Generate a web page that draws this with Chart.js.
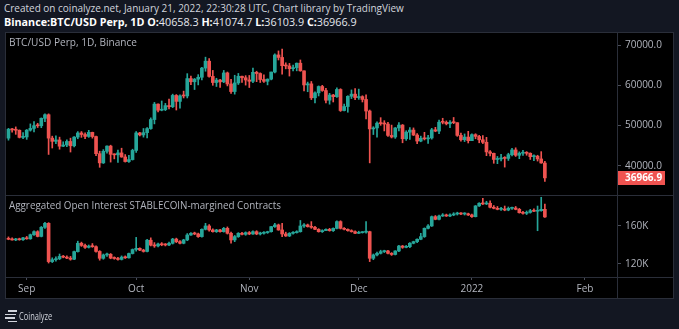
<!DOCTYPE html>
<html>
<head>
<meta charset="utf-8">
<script src="https://cdn.jsdelivr.net/npm/chart.js@4.4.1/dist/chart.umd.min.js"></script>
<style>
  html, body { margin: 0; padding: 0; }
  body { width: 679px; height: 329px; background: #131722; position: relative; overflow: hidden; font-family: 'Open Sans', sans-serif; }
  .txt { position: absolute; white-space: nowrap; transform-origin: 0 50%; line-height: 1; }
  #hdr1 { left: 4px; top: 2px; font-size: 11px; color: #d1d4dc; }
  #hdr2 { left: 4px; top: 16px; font-size: 11px; color: #e6e8ee; }
  #hdr2 b { color: #fff; }
  .pane { position: absolute; left: 5px; width: 669px; background: #000; }
  #pricePane { top: 32px; height: 163px; }
  #oiPane { top: 195px; height: 104px; }
  .paneTitle { left: 4px; top: 5px; font-size: 10px; color: #b2b5be; }
  .line { position: absolute; background: #2a2e39; }
  #frame { position: absolute; left: 5px; top: 32px; width: 669px; height: 267px; border: 1px solid #2a2e39; box-sizing: border-box; }
  .bar { position: absolute; height: 1.5px; background: #d1d4dc; }
  #logoText { left: 19px; top: 311px; font-size: 10px; color: #d1d4dc; }
</style>
</head>
<body>
<div id="hdr1" class="txt">Created on coinalyze.net, January 21, 2022, 22:30:28 UTC, Chart library by TradingView</div>
<div id="hdr2" class="txt"><b>Binance:BTC/USD Perp, 1D O:</b>40658.3 <b>H:</b>41074.7 <b>L:</b>36103.9 <b>C:</b>36966.9</div>

<div id="pricePane" class="pane">
  <canvas id="priceChart" width="669" height="163"></canvas>
  <div id="priceTitle" class="txt paneTitle">BTC/USD Perp, 1D, Binance</div>
</div>
<div id="oiPane" class="pane">
  <canvas id="oiChart" width="669" height="104"></canvas>
  <div id="oiTitle" class="txt paneTitle">Aggregated Open Interest STABLECOIN-margined Contracts</div>
</div>
<div id="frame"></div>
<div class="line" style="left:5px;top:195px;width:669px;height:1px"></div>
<div class="line" style="left:5px;top:277px;width:669px;height:1px"></div>
<div class="line" style="left:617px;top:32px;width:1px;height:267px"></div>

<div class="bar" style="left:8px;top:310px;width:9px"></div>
<div class="bar" style="left:5px;top:313.5px;width:11px"></div>
<div class="bar" style="left:5px;top:317px;width:10px"></div>
<div class="bar" style="left:8px;top:320.5px;width:9px"></div>
<div id="logoText" class="txt">Coinalyze</div>

<script>
// days counted from 1 Sep 2021; first candle is 27 Aug 2021
const firstDay = -5;
const monthTicks = [0, 30, 61, 91, 122, 153];
const monthLabels = ['Sep', 'Oct', 'Nov', 'Dec', '2022', 'Feb'];
const priceTicks = [40000, 50000, 60000, 70000];
const oiTicks = [120, 160];

// BTC/USD Perp daily candles, 27 Aug 2021 .. 21 Jan 2022
const btcOpen = [
  46850, 49070, 48900, 48820, 47050,
  47150, 48840, 49280, 49960, 49930, 51780, 52680, 46860, 46060, 46400,
  44850, 45150, 46030, 44950, 47120, 48140, 47760, 47280, 48290, 47250,
  42990, 40700, 43570, 44880, 42830, 42700, 43180, 42170, 41030, 41520,
  43800, 48150, 47650, 48220, 49230, 51480, 55320, 53800, 53950, 54950,
  54670, 57480, 56000, 57370, 57350, 61670, 60880, 61530, 62000, 64280,
  66000, 62210, 60690, 61300, 60860, 63080, 60330, 58450, 60590, 62250, 61880,
  61320, 61000, 63230, 62930, 61440, 61000, 61530, 63300, 67550, 66930,
  64880, 64810, 64140, 64400, 65500, 63600, 60090, 60360, 56890, 58120,
  59700, 58700, 56290, 57570, 57170, 58960, 53730, 54720, 57270, 57800,
  56950, 57180, 56480, 53600, 49150, 49400, 50580, 50470, 50360, 47540,
  47140, 49390, 50100, 46700, 48340, 48860, 47630, 46130, 46830, 46680,
  46900, 48930, 48610, 50820, 50800, 50430, 50800, 50700, 47540, 46460, 47120,
  46220, 47720, 47290, 46440, 45830, 43430, 43080, 41550, 41680, 41860,
  41820, 42740, 43920, 42590, 43100, 43180, 43090, 42250, 42370, 41680, 40658.3
];
const btcHigh = [
  49300, 49300, 49650, 48900, 48250,
  49000, 50400, 51000, 50550, 51900, 52900, 52900, 47350, 47400, 47100,
  45950, 46450, 46850, 47250, 48480, 48500, 48150, 48800, 48350, 47350,
  43600, 44000, 44950, 45100, 42950, 43900, 44350, 42770, 42600, 44100,
  48500, 48300, 49250, 49500, 51900, 55750, 55400, 56100, 55500, 56550,
  57800, 57700, 57600, 58550, 62900, 62300, 61700, 62650, 64450, 67000,
  66650, 63700, 61750, 61500, 63700, 63300, 61500, 62500, 62950, 62300, 62400,
  62450, 64300, 63500, 63100, 62600, 61600, 63300, 67800, 68550, 69000,
  65600, 65450, 65000, 65550, 66300, 63600, 60800, 60950, 58350, 59850,
  60000, 59250, 58000, 57750, 59400, 59150, 55300, 57400, 58850, 59200,
  59050, 57400, 57600, 53850, 49700, 50900, 51950, 51200, 50800, 50100,
  49500, 50700, 50250, 48700, 49500, 49400, 48000, 47350, 48300, 47550,
  49300, 49550, 51350, 51800, 51150, 51250, 52000, 50700, 48100, 47900, 48550,
  47900, 47950, 47550, 47500, 47050, 43750, 43150, 42300, 42800, 42250,
  43100, 44350, 44450, 43450, 43800, 43500, 43200, 42700, 42600, 43500, 41074.7
];
const btcLow = [
  46350, 48350, 47800, 46900, 46700,
  46550, 48600, 48400, 49500, 49450, 50950, 42800, 44400, 45500, 44100,
  44750, 44750, 43400, 44700, 46700, 47050, 46750, 47050, 46850, 42500,
  39600, 40550, 43100, 40900, 41700, 40800, 42100, 40900, 40800, 41400,
  43300, 47400, 47100, 46900, 49050, 50400, 53350, 53650, 53700, 54100,
  54450, 53850, 54300, 56850, 56850, 60150, 58950, 60100, 61350, 63500,
  62000, 60000, 59700, 59500, 60650, 59850, 58000, 57800, 60200, 60700, 60050,
  59450, 60650, 60900, 60700, 60700, 60100, 61350, 63100, 66300, 62800,
  64100, 62300, 63600, 63600, 63500, 58600, 58400, 56450, 55600, 57350,
  58500, 55600, 55300, 55850, 57000, 53500, 53650, 53300, 56700, 56450,
  56500, 55850, 51650, 40700, 47750, 47100, 50050, 48650, 47300, 46900,
  46800, 48650, 45700, 46300, 46550, 47500, 45450, 45950, 46400, 45550,
  46600, 48450, 47950, 50400, 50150, 49450, 50450, 47300, 46100, 46000, 45650,
  46200, 46700, 45700, 45500, 42500, 42450, 40600, 40500, 41200, 39650,
  41300, 42450, 42300, 41750, 42550, 42600, 41550, 41250, 41150, 40600, 36103.9
];
const btcClose = [
  49070, 48900, 48820, 47050, 47150,
  48840, 49280, 49960, 49930, 51780, 52680, 46860, 46060, 46400, 44850,
  45150, 46030, 44950, 47120, 48140, 47760, 47280, 48290, 47250, 42990,
  40700, 43570, 44880, 42830, 42700, 43180, 42170, 41030, 41520, 43800,
  48150, 47650, 48220, 49230, 51480, 55320, 53800, 53950, 54950, 54670,
  57480, 56000, 57370, 57350, 61670, 60880, 61530, 62000, 64280, 66000,
  62210, 60690, 61300, 60860, 63080, 60330, 58450, 60590, 62250, 61880, 61320,
  61000, 63230, 62930, 61440, 61000, 61530, 63300, 67550, 66930, 64880,
  64810, 64140, 64400, 65500, 63600, 60090, 60360, 56890, 58120, 59700,
  58700, 56290, 57570, 57170, 58960, 53730, 54720, 57270, 57800, 56950,
  57180, 56480, 53600, 49150, 49400, 50580, 50470, 50360, 47540, 47140,
  49390, 50100, 46700, 48340, 48860, 47630, 46130, 46830, 46680, 46900,
  48930, 48610, 50820, 50800, 50430, 50800, 50700, 47540, 46460, 47120, 46220,
  47720, 47290, 46440, 45830, 43430, 43080, 41550, 41680, 41860, 41820,
  42740, 43920, 42590, 43100, 43180, 43090, 42250, 42370, 41680, 40680, 36966.9
];

// aggregated open interest (thousands), same days
const oiOpen = [
  147.0, 146.0, 145.3, 146.0, 145.5,
  147.5, 146.5, 150.8, 154.0, 149.0, 158.6, 162.8, 122.5, 124.5, 125.5,
  128.0, 127.2, 126.2, 125.0, 133.0, 141.8, 139.5, 137.5, 138.8, 138.2,
  133.2, 126.0, 129.5, 130.2, 126.2, 125.8, 124.8, 127.2, 126.5, 131.0,
  135.2, 136.5, 134.6, 133.2, 145.0, 139.8, 139.0, 141.0, 140.2, 140.0,
  141.8, 146.2, 143.5, 141.8, 145.3, 150.5, 152.3, 151.6, 148.8, 156.5,
  160.0, 155.8, 154.0, 155.8, 154.0, 157.5, 152.3, 145.3, 148.8, 152.3, 151.2,
  153.0, 151.6, 154.0, 151.6, 152.3, 153.0, 154.0, 159.3, 161.1, 155.8,
  151.6, 149.5, 152.3, 153.0, 154.0, 160.0, 161.1, 159.3, 158.6, 156.5,
  154.0, 155.1, 156.5, 155.1, 157.5, 164.6, 157.5, 156.5, 155.1, 154.0,
  152.3, 153.0, 153.5, 154.0, 126.0, 129.5, 131.2, 133.0, 133.7, 131.2,
  130.0, 133.7, 138.9, 137.5, 138.2, 141.8, 143.5, 146.0, 148.8, 157.5,
  160.0, 169.8, 167.0, 170.5, 171.6, 170.5, 171.6, 172.6, 173.3, 172.6, 172.8,
  171.6, 169.8, 181.1, 183.9, 183.2, 183.9, 179.7, 178.6, 177.5, 177.8,
  176.8, 178.6, 178.9, 177.5, 174.0, 173.3, 174.3, 176.1, 175.5, 176.1, 177.5
];
const oiHigh = [
  148.5, 147.5, 147.0, 147.2, 148.0,
  149.0, 151.5, 155.0, 155.0, 159.5, 163.8, 163.5, 126.5, 127.5, 130.5,
  129.0, 128.5, 128.0, 133.5, 144.0, 143.0, 141.0, 140.0, 141.5, 139.0,
  134.0, 130.5, 131.5, 131.0, 127.5, 127.0, 128.5, 128.5, 131.5, 135.8,
  148.0, 137.0, 135.5, 146.0, 147.5, 142.5, 142.0, 142.5, 141.5, 143.0,
  147.0, 147.2, 144.5, 146.0, 152.0, 153.0, 153.5, 152.5, 157.0, 162.8,
  161.5, 157.0, 156.5, 156.5, 158.5, 159.0, 153.5, 150.0, 153.0, 153.2, 153.8,
  154.2, 155.0, 155.0, 153.5, 154.0, 154.5, 159.5, 162.8, 162.0, 162.8,
  153.5, 153.0, 154.0, 155.0, 165.8, 162.5, 162.0, 164.6, 159.5, 157.2,
  156.0, 157.0, 157.5, 158.0, 165.5, 165.5, 158.2, 157.0, 156.0, 155.0,
  154.5, 154.0, 164.6, 154.5, 130.5, 132.5, 134.5, 134.5, 134.5, 132.0,
  134.0, 139.5, 139.5, 139.5, 142.5, 144.0, 146.5, 152.3, 158.0, 161.5,
  170.5, 171.0, 171.5, 173.0, 172.5, 172.8, 174.0, 174.5, 174.0, 174.0, 173.5,
  172.5, 181.5, 184.5, 189.1, 186.0, 186.5, 181.5, 180.5, 179.5, 181.0,
  180.0, 180.0, 180.5, 178.5, 175.5, 175.8, 177.5, 178.0, 181.0, 190.2, 183.0
];
const oiLow = [
  145.5, 145.0, 144.5, 145.0, 144.8,
  146.0, 146.0, 150.0, 148.5, 148.5, 157.5, 121.0, 121.5, 123.0, 124.5,
  126.5, 125.5, 124.0, 124.5, 132.5, 138.5, 136.5, 136.8, 137.5, 132.5,
  124.0, 125.0, 128.0, 125.5, 125.0, 124.0, 124.2, 125.8, 126.0, 130.5,
  133.5, 134.0, 132.5, 132.8, 139.0, 137.5, 138.0, 139.2, 139.0, 139.2,
  141.0, 142.5, 141.0, 141.2, 144.5, 150.0, 150.8, 148.0, 148.2, 155.8,
  154.5, 153.5, 153.2, 153.5, 153.5, 151.5, 141.8, 143.5, 148.0, 150.5, 150.2,
  150.8, 151.0, 150.8, 150.5, 151.5, 152.2, 153.5, 158.5, 155.5, 148.8,
  149.0, 148.8, 151.5, 152.5, 153.5, 158.5, 158.8, 157.5, 156.0, 153.5,
  153.2, 155.0, 154.5, 154.2, 157.0, 156.8, 155.8, 154.5, 153.5, 151.8,
  152.0, 152.5, 152.5, 122.5, 124.5, 128.5, 130.5, 132.0, 130.5, 129.0,
  129.5, 133.0, 136.5, 137.0, 137.2, 141.2, 142.5, 145.5, 148.0, 156.8,
  159.5, 166.5, 166.5, 170.0, 170.0, 169.8, 170.8, 171.5, 171.8, 171.5, 171.0,
  169.0, 169.5, 180.5, 182.5, 182.5, 179.0, 178.0, 177.0, 176.5, 176.0,
  176.0, 177.5, 177.0, 173.5, 172.5, 172.0, 173.5, 175.0, 155.0, 175.5, 169.0
];
const oiClose = [
  146.0, 145.3, 146.0, 145.5, 147.5,
  146.5, 150.8, 154.0, 149.0, 158.6, 162.8, 122.5, 124.5, 125.5, 128.0,
  127.2, 126.2, 125.0, 133.0, 141.8, 139.5, 137.5, 138.8, 138.2, 133.2,
  126.0, 129.5, 130.2, 126.2, 125.8, 124.8, 127.2, 126.5, 131.0, 135.2,
  136.5, 134.6, 133.2, 145.0, 139.8, 139.0, 141.0, 140.2, 140.0, 141.8,
  146.2, 143.5, 141.8, 145.3, 150.5, 152.3, 151.6, 148.8, 156.5, 160.0,
  155.8, 154.0, 155.8, 154.0, 157.5, 152.3, 145.3, 148.8, 152.3, 151.2, 153.0,
  151.6, 154.0, 151.6, 152.3, 153.0, 154.0, 159.3, 161.1, 155.8, 151.6,
  149.5, 152.3, 153.0, 154.0, 160.0, 161.1, 159.3, 158.6, 156.5, 154.0,
  155.1, 156.5, 155.1, 157.5, 164.6, 157.5, 156.5, 155.1, 154.0, 152.3,
  153.0, 153.5, 154.0, 126.0, 129.5, 131.2, 133.0, 133.7, 131.2, 130.0,
  133.7, 138.9, 137.5, 138.2, 141.8, 143.5, 146.0, 148.8, 157.5, 160.0,
  169.8, 167.0, 170.5, 171.6, 170.5, 171.6, 172.6, 173.3, 172.6, 172.8, 171.6,
  169.8, 181.1, 183.9, 183.2, 183.9, 179.7, 178.6, 177.5, 177.8, 176.8,
  178.6, 178.9, 177.5, 174.0, 173.3, 174.3, 176.1, 175.5, 176.1, 177.5, 169.5
];

const UP = '#26a69a';
const DOWN = '#ef5350';
const AXIS_TEXT = '#b2b5be';
const TICK_LINE = '#4a4e59';
const X_MIN = -5.95, X_MAX = 161.77;

function candleSets(open, high, low, close) {
  const colors = close.map((c, i) => c >= open[i] ? UP : DOWN);
  return [
    {
      data: close.map((c, i) => ({ x: firstDay + i, y: [open[i], c] })),
      backgroundColor: colors,
      barThickness: 3,
      minBarLength: 1,
      grouped: false,
      order: 0
    },
    {
      data: high.map((h, i) => ({ x: firstDay + i, y: [low[i], h] })),
      backgroundColor: colors,
      barThickness: 1,
      grouped: false,
      order: 1
    }
  ];
}

function rightAxis(min, max, ticks, fmt) {
  return {
    position: 'right',
    min: min,
    max: max,
    afterBuildTicks: s => { s.ticks = ticks.map(v => ({ value: v })); },
    afterFit: s => { s.width = 57; s.paddingTop = 0; s.paddingBottom = 0; },
    ticks: { color: AXIS_TEXT, font: { size: 10 }, padding: 4, callback: fmt },
    grid: { drawOnChartArea: false, tickLength: 4, color: TICK_LINE },
    border: { display: false }
  };
}

// red box with the last close on the price axis
const lastPriceLabel = {
  id: 'lastPriceLabel',
  afterDraw(chart) {
    const last = btcClose[btcClose.length - 1];
    const y = chart.scales.y.getPixelForValue(last);
    const left = chart.chartArea.right;
    const ctx = chart.ctx;
    ctx.save();
    ctx.fillStyle = DOWN;
    ctx.fillRect(left, Math.round(y) - 7, 48, 14);
    ctx.fillStyle = '#ffffff';
    ctx.font = 'bold 10px "Open Sans"';
    ctx.textBaseline = 'middle';
    ctx.fillText(last.toFixed(1), left + 8, y + 0.5);
    ctx.restore();
  }
};

function fit(id, w) {
  const el = document.getElementById(id);
  el.style.transform = 'scaleX(' + (w / el.scrollWidth) + ')';
}

function build() {
  Chart.defaults.font.family = "'Open Sans', sans-serif";

  new Chart(document.getElementById('priceChart'), {
    type: 'bar',
    data: { datasets: candleSets(btcOpen, btcHigh, btcLow, btcClose) },
    options: {
      responsive: false,
      animation: false,
      devicePixelRatio: 1,
      layout: { padding: 0 },
      plugins: { legend: { display: false }, tooltip: { enabled: false } },
      scales: {
        x: { type: 'linear', min: X_MIN, max: X_MAX, offset: false, display: false },
        y: rightAxis(32710, 73260, priceTicks, v => v.toFixed(1))
      }
    },
    plugins: [lastPriceLabel]
  });

  new Chart(document.getElementById('oiChart'), {
    type: 'bar',
    data: { datasets: candleSets(oiOpen, oiHigh, oiLow, oiClose) },
    options: {
      responsive: false,
      animation: false,
      devicePixelRatio: 1,
      layout: { padding: 0 },
      plugins: { legend: { display: false }, tooltip: { enabled: false } },
      scales: {
        x: {
          type: 'linear', min: X_MIN, max: X_MAX, offset: false, position: 'bottom',
          afterBuildTicks: s => { s.ticks = monthTicks.map(v => ({ value: v })); },
          afterFit: s => { s.height = 22; s.paddingLeft = 0; s.paddingRight = 0; },
          ticks: { color: AXIS_TEXT, font: { size: 10 }, padding: 3, maxRotation: 0, autoSkip: false,
                   callback: (v, i) => monthLabels[i] },
          grid: { drawOnChartArea: false, tickLength: 3, color: TICK_LINE, offset: false },
          border: { display: false }
        },
        y: rightAxis(106.3, 192.6, oiTicks, v => v + 'K')
      }
    }
  });

  fit('hdr1', 400);
  fit('hdr2', 353);
  fit('priceTitle', 128);
  fit('oiTitle', 272);
  fit('logoText', 33);
}

document.fonts.load('10px "Open Sans"').then(build, build);
</script>
</body>
</html>
